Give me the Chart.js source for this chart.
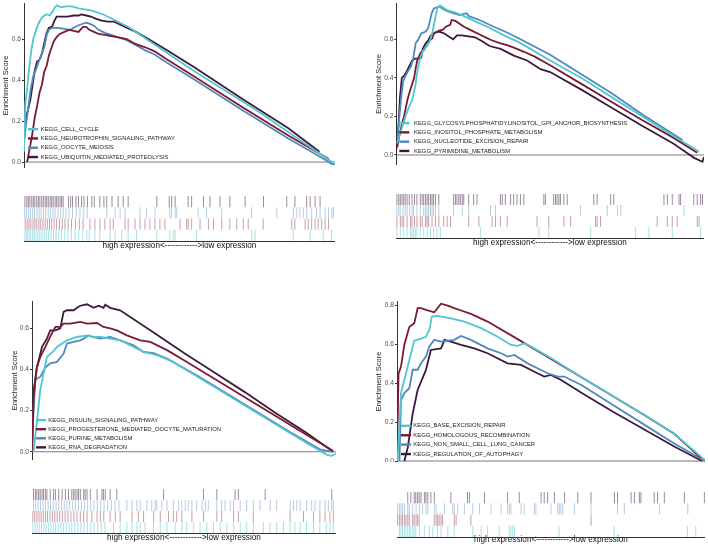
<!DOCTYPE html>
<html>
<head>
<meta charset="utf-8">
<script src="https://cdn.jsdelivr.net/npm/chart.js@4.4.1/dist/chart.umd.min.js"></script>
<style>
    body { margin: 0; background: #fff; width: 708px; height: 546px; position: relative; overflow: hidden; }
</style>
</head>
<body>
<script>
// ---- data (x = position in ranked list, 0..100 %) ----
const yTicksLow = [0, 0.2, 0.4, 0.6];
const yTicksHigh = [0, 0.2, 0.4, 0.6, 0.8];
const xTitle = "high expression<------------>low expression";

// panel 1
const p1Names = ["KEGG_CELL_CYCLE", "KEGG_NEUROTROPHIN_SIGNALING_PATHWAY", "KEGG_OOCYTE_MEIOSIS", "KEGG_UBIQUITIN_MEDIATED_PROTEOLYSIS"];
const p1CellCycle = [[0,0.05],[0.4,0.28],[1,0.36],[1.6,0.45],[2.4,0.55],[3,0.6],[3.8,0.64],[4.5,0.67],[5.5,0.7],[6.5,0.715],[7.5,0.72],[8.2,0.715],[9,0.73],[9.8,0.75],[10.5,0.765],[12,0.755],[13.5,0.76],[15.5,0.76],[17.5,0.75],[19.5,0.745],[21.5,0.74],[23.5,0.73],[25.5,0.72],[27.5,0.705],[29.5,0.69],[31.5,0.675],[33.5,0.66],[36,0.635],[55,0.44],[75,0.25],[99,0],[100,-0.01]];
const p1Neurotrophin = [[1,0],[1.5,0.04],[2.5,0.12],[3.5,0.22],[4.3,0.28],[5,0.34],[5.8,0.38],[6.5,0.44],[7.3,0.47],[8,0.52],[8.9,0.56],[9.6,0.59],[10.5,0.61],[11.5,0.625],[13,0.635],[14.5,0.645],[16,0.64],[17.5,0.635],[19,0.66],[20,0.66],[21,0.645],[22.5,0.635],[24,0.625],[26,0.62],[28,0.615],[30,0.61],[33,0.6],[36,0.575],[39,0.56],[42,0.54],[46,0.5],[55,0.415],[70,0.27],[85,0.13],[98,0.015]];
const p1Oocyte = [[0,0.1],[0.8,0.2],[1.5,0.28],[2.2,0.36],[3,0.42],[3.8,0.45],[4.5,0.48],[5.5,0.52],[6.5,0.56],[7.3,0.62],[8,0.645],[9,0.655],[11,0.655],[13,0.65],[15,0.645],[16.5,0.66],[18,0.67],[20,0.68],[21,0.675],[22.5,0.665],[24,0.645],[26,0.63],[28,0.62],[30,0.61],[33,0.595],[36,0.57],[39,0.545],[42,0.525],[46,0.485],[55,0.4],[70,0.255],[85,0.115],[97,0.01],[99,-0.01],[100,-0.01]];
const p1Ubiquitin = [[0,0.1],[0.6,0.22],[1.2,0.25],[2,0.3],[2.8,0.38],[3.5,0.45],[4.2,0.49],[5,0.5],[5.8,0.53],[6.5,0.58],[7.3,0.63],[8,0.655],[9,0.66],[9.8,0.69],[10.5,0.71],[12,0.71],[14,0.71],[16,0.715],[17.5,0.715],[18.5,0.72],[20,0.715],[21.5,0.71],[23,0.7],[25,0.69],[27,0.685],[29,0.685],[31,0.67],[33,0.655],[36,0.635],[40,0.6],[46,0.545],[55,0.46],[70,0.31],[85,0.165],[95,0.05]];
const p1CellCycleHits = [0.3,0.7,1.2,1.7,2.2,2.8,3.3,3.9,4.5,5.1,5.8,6.5,7.2,7.9,8.7,9.5,10.3,11.2,12.1,13.1,14.1,15.2,16.4,17.6,18.9,20.2,21,22.8,24.4,27.7,29.3,31.4,33.5,36.2,42.7,46.9,48,48.6,55.5,73.2,74.3,86.6,92,96.2,98.9];
const p1NeurotrophinHits = [0.4,1,1.6,2.2,2.9,3.5,4.1,4.8,5.4,6.1,6.8,7.5,8.2,8.9,9.7,10.5,11.4,12.3,13.2,14.2,15.3,16.5,17.8,19,21.2,22.8,24.4,26,27.7,28.7,32.5,33.5,35.7,37.3,38.9,40.5,42.1,43.7,45.3,50.2,52.3,52.8,53.9,56.6,59.3,60.9,63.6,66.2,68.4,70.5,72.1,76.9,86.1,87.1,90.4,91.4,92.5,93.6,94.6,95.7,96.8,97.9];
const p1OocyteHits = [0.2,0.8,1.5,2.1,2.8,3.4,4.2,4.9,5.5,6.3,7,7.8,8.5,9.3,10,10.9,11.8,12.6,13.5,14.5,15.6,16.8,18,19.2,20.3,26.6,29.3,30.9,32.5,37.3,39.4,42.1,46.9,47.5,48.6,49.1,56,58.7,63.6,73.2,81.3,86.6,87.7,88.7,89.8,90.9,92.5,94.1,95.2,96.8,97.9,99,99.5];
const p1UbiquitinHits = [0.3,0.9,1.4,1.9,2.5,3,3.5,4.1,4.6,5.1,5.7,6.2,6.8,7.3,7.8,8.4,8.9,9.4,10,10.5,11,11.6,12.1,12.6,14.3,15,15.6,16.7,17.5,18.5,19.3,20.4,21.8,22.6,24.4,25.7,26.6,28.3,30.3,31.9,33.5,42.7,46.7,47.5,48.6,52.8,53.9,57.7,59.8,63,66.2,71.1,77,84.5,87.1,90.9,92,93.6,95.2];

// panel 2
const p2Names = ["KEGG_GLYCOSYLPHOSPHATIDYLINOSITOL_GPI_ANCHOR_BIOSYNTHESIS", "KEGG_INOSITOL_PHOSPHATE_METABOLISM", "KEGG_NUCLEOTIDE_EXCISION_REPAIR", "KEGG_PYRIMIDINE_METABOLISM"];
const p2Gpi = [[0.3,0.06],[1,0.1],[2,0.15],[3,0.2],[4,0.245],[5.2,0.285],[6.3,0.37],[7,0.45],[7.9,0.51],[8.7,0.54],[9.6,0.56],[10.5,0.58],[11.2,0.605],[11.8,0.64],[12.2,0.67],[12.8,0.72],[13.3,0.76],[14.2,0.775],[16.6,0.75],[19,0.74],[22,0.72],[26,0.69],[29.6,0.665],[35,0.62],[40.4,0.58],[50,0.49],[60,0.4],[70,0.3],[80,0.2],[90,0.1],[98.4,0.017]];
const p2Inositol = [[0.3,0.04],[1,0.1],[1.9,0.165],[2.5,0.2],[3.6,0.285],[4.4,0.33],[5.2,0.37],[5.8,0.4],[6.3,0.45],[6.8,0.49],[7.9,0.53],[9,0.545],[9.6,0.56],[10.1,0.57],[10.6,0.59],[11.7,0.605],[12.2,0.63],[13.9,0.645],[15.2,0.65],[16.1,0.665],[17.5,0.675],[18,0.7],[19.2,0.695],[22,0.665],[24.5,0.645],[27.1,0.625],[29,0.61],[31,0.595],[33.6,0.58],[36,0.57],[38.4,0.555],[41.5,0.535],[45,0.51],[50,0.465],[60,0.37],[70,0.275],[80,0.18],[90,0.09],[97.8,0.012]];
const p2Nucleotide = [[0.3,0.06],[1,0.2],[1.6,0.3],[2.2,0.38],[3,0.41],[4,0.44],[4.8,0.46],[5.5,0.5],[6.3,0.58],[7.2,0.6],[8.1,0.63],[9.6,0.64],[10.4,0.66],[11,0.7],[11.5,0.735],[12.2,0.76],[13.9,0.77],[15.5,0.755],[16.5,0.745],[18.5,0.735],[20.5,0.725],[22.8,0.735],[23.6,0.72],[27,0.7],[31.7,0.665],[36,0.635],[41,0.595],[50,0.52],[60,0.42],[70,0.32],[80,0.21],[93,0.078]];
const p2Pyrimidine = [[0,0.025],[0.7,0.15],[1.2,0.3],[1.8,0.4],[2.5,0.41],[3.3,0.43],[4.2,0.46],[5.2,0.49],[6.1,0.5],[7,0.5],[8.1,0.505],[8.6,0.55],[9.6,0.58],[10.4,0.595],[11.2,0.62],[12.8,0.635],[13.9,0.64],[15.6,0.63],[17.4,0.61],[18.5,0.6],[19.7,0.62],[21.3,0.62],[23.5,0.615],[25.6,0.61],[27.9,0.59],[30.3,0.565],[33.9,0.55],[38.2,0.515],[42.5,0.49],[46.9,0.445],[50,0.43],[60,0.34],[70,0.245],[80,0.15],[90,0.06],[94.5,0.01],[96.8,-0.015],[99.5,-0.035],[100,-0.01]];
const p2GpiHits = [0.3,1.4,2.5,3.6,4.7,5.2,5.7,6.3,6.8,7.9,9,10.1,11.2,12.2,13.3,14.4,27.4,46.4,49.6,63.2,77.8,82.1,89.7,98.9];
const p2InositolHits = [0.3,1.4,1.95,2.5,3.6,4.7,5.2,6,6.8,7.9,8.5,9.6,10.1,10.6,11.7,12.8,13.9,15.5,16.6,17.7,23.6,26.9,31.2,32.3,33.9,36.1,45.8,49.6,54.5,56.7,64.8,65.3,66.4,84.8,88.1,89.7,91.3,97.8,98.4];
const p2NucleotideHits = [0.3,0.9,1.4,2.3,3,3.6,4.4,5.2,5.7,6.8,7.9,9,9.6,10.1,10.6,11.2,11.7,12.2,12.8,13.9,18.7,21.5,23.6,30.7,32.3,59.9,68.6,71.9,73,93.5];
const p2PyrimidineHits = [0.3,0.9,1.4,1.95,2.5,3,3.6,4.3,5.2,6,6.8,7.9,8.5,9,9.6,10.1,10.6,11.2,11.7,12.2,12.8,13.9,18.7,19.3,19.8,20.4,20.9,21.5,22,23.6,25.2,26.3,33.9,34.5,35.5,37.2,38.2,39.3,40.4,41.5,48,48.5,51.2,51.8,52.3,52.9,53.4,54.5,55.6,64.2,65.3,69.7,70.7,87,88.1,89.7,91.9,92.4,96.7,97.8,98.9,99.5];

// panel 3
const p3Names = ["KEGG_INSULIN_SIGNALING_PATHWAY", "KEGG_PROGESTERONE_MEDIATED_OOCYTE_MATURATION", "KEGG_PURINE_METABOLISM", "KEGG_RNA_DEGRADATION"];
const p3Insulin = [[0.5,0],[1.6,0.14],[2.7,0.3],[3.8,0.38],[4.9,0.46],[7.1,0.49],[8.2,0.51],[9.9,0.526],[11.5,0.542],[14.8,0.558],[18.1,0.566],[20.3,0.558],[22.5,0.558],[25.7,0.55],[29,0.542],[33.4,0.51],[36.7,0.485],[41.1,0.47],[46.5,0.437],[55,0.36],[65,0.27],[75,0.18],[85,0.09],[93,0.02],[97,-0.015],[98.5,-0.02],[100,-0.01]];
const p3Progesterone = [[0,0],[0.55,0.27],[1.6,0.41],[2.7,0.46],[4.4,0.51],[6,0.56],[7.7,0.607],[9.3,0.607],[10.4,0.623],[12.6,0.623],[15.9,0.631],[18.1,0.623],[21.4,0.626],[23.5,0.607],[25.7,0.6],[27.9,0.59],[31.2,0.566],[35.6,0.542],[38.9,0.534],[44.4,0.494],[50,0.445],[60,0.355],[70,0.265],[80,0.175],[90,0.085],[99,0.005]];
const p3Purine = [[0,0],[0.5,0.2],[1.1,0.35],[2.7,0.364],[4.4,0.41],[6,0.43],[8.2,0.437],[10.4,0.477],[11.5,0.526],[13.7,0.534],[15.9,0.542],[17,0.55],[18.6,0.566],[19.7,0.558],[22.5,0.55],[25.7,0.558],[29,0.542],[33.4,0.518],[36.7,0.485],[40,0.48],[44.4,0.453],[55,0.365],[65,0.275],[75,0.185],[85,0.095],[95,0.01],[99.1,0]];
const p3Rna = [[0,0],[0.55,0.3],[1.6,0.41],[3.3,0.51],[4.9,0.55],[6,0.59],[7.7,0.59],[9.3,0.6],[10.4,0.68],[11.5,0.688],[13.7,0.688],[14.8,0.7],[15.9,0.71],[18.1,0.717],[20.3,0.7],[21.9,0.71],[23.5,0.7],[24.1,0.715],[25.7,0.7],[29,0.688],[40,0.58],[50,0.48],[60,0.385],[70,0.29],[80,0.19],[90,0.095],[99.1,0]];
const p3InsulinHits = [0.3,1,1.7,2.4,3.1,3.9,4.6,5.4,6.2,7,7.8,8.6,9.5,10.4,11.3,12.2,13.1,14.1,15.1,16.1,17.1,18.2,19.3,20.4,21.6,22.8,24,26.8,29,31.2,32.9,34.5,35.6,37.2,40,42.2,44.4,47.1,49.3,50.9,53.1,55.3,57.5,59.7,61.9,64.1,66.3,68.5,70.6,72.8,76.1,78.3,80.5,82.7,84.9,86.5,88.2,90.3,92.6,94.7,96.9,98,99.1];
const p3ProgesteroneHits = [0.3,0.9,1.6,2.3,3,3.7,4.4,5.1,5.9,6.7,7.5,8.3,9.1,10,10.9,11.8,12.8,13.8,14.8,15.9,17,18.1,19.7,21.4,22.5,23.6,25.7,27.4,29,32.9,35,36.7,40,42.2,44.9,46.5,47.6,49.3,52.6,56.4,60.8,62.4,66.3,67.9,72.8,84.9,89.3,92.6,94.7,96.4,98,99.1];
const p3PurineHits = [0.5,1.2,2,2.8,3.6,4.4,5.3,6.1,7,7.9,8.8,9.7,10.6,11.5,12.4,13.4,14.3,15.3,16.3,17.3,18.3,19.3,20.4,21.5,22.6,23.7,24.9,26.1,27.3,28.6,31.2,32.9,34.5,35.6,37.8,39.4,40.5,41.1,42.7,44.4,46.5,48.2,49.3,50.4,51.4,52.6,54.2,55.9,57,58,60.8,62.4,63.5,65.2,66.3,68.5,70.6,72.8,75,78.3,80.5,84.9,86,87.1,88.2,90.3,92,93.1,94.7,96.4,97.5,98.6,99.1];
const p3RnaHits = [0.5,1.1,1.6,2.2,2.7,3.3,3.8,4.4,4.9,6,7.1,7.7,8.8,9.9,11,12,13.1,13.7,14.2,14.8,15.3,15.9,17,17.5,18.1,19.2,21.4,23,23.5,24.1,25.7,27.9,43.3,56.4,60.8,66.8,67.9,76.7,98.6];

// panel 4
const p4Names = ["KEGG_BASE_EXCISION_REPAIR", "KEGG_HOMOLOGOUS_RECOMBINATION", "KEGG_NON_SMALL_CELL_LUNG_CANCER", "KEGG_REGULATION_OF_AUTOPHAGY"];
const p4BaseExcision = [[0.2,0],[1.3,0.35],[2.4,0.42],[4,0.52],[5.6,0.62],[7.8,0.63],[9.4,0.64],[10.5,0.675],[11.3,0.744],[13.2,0.747],[17.5,0.735],[21.9,0.718],[27.3,0.684],[32.7,0.64],[37,0.598],[39.2,0.593],[41.3,0.607],[43.5,0.59],[50,0.53],[60,0.43],[70,0.335],[80,0.24],[90,0.14],[100,0.005]];
const p4Homologous = [[0,0],[0.5,0.45],[1.3,0.486],[2.4,0.6],[4,0.69],[5.6,0.71],[6.7,0.787],[7.8,0.787],[9.4,0.778],[12.1,0.766],[14.3,0.81],[16.5,0.8],[18.6,0.787],[20.8,0.775],[24,0.758],[29.4,0.718],[40,0.62],[50,0.525],[60,0.43],[70,0.335],[80,0.24],[90,0.14],[98.7,0.015]];
const p4LungCancer = [[0.8,0],[1.3,0.314],[2.4,0.35],[4,0.375],[5.1,0.47],[6.7,0.47],[7.8,0.503],[9.4,0.538],[10.5,0.59],[12.1,0.624],[14.3,0.615],[18.6,0.624],[20.8,0.644],[24,0.624],[29.4,0.58],[33.8,0.555],[35.9,0.538],[38.1,0.546],[42.4,0.503],[48.9,0.452],[52.2,0.435],[54.3,0.435],[60,0.39],[70,0.29],[80,0.19],[90,0.09],[100,0]];
const p4Autophagy = [[2.4,0],[3.5,0.07],[5.1,0.245],[6.7,0.366],[9.4,0.469],[11,0.572],[14.3,0.58],[15.4,0.624],[17.5,0.615],[20.8,0.598],[25.1,0.58],[29.4,0.555],[35.9,0.503],[40.3,0.495],[44.6,0.46],[47.8,0.435],[50,0.443],[53.3,0.417],[60,0.35],[70,0.255],[80,0.165],[90,0.075],[99,0]];
const p4BaseExcisionHits = [0.8,1.3,1.8,2.4,2.9,3.5,4,4.5,5.1,5.6,6.1,7.3,8.9,10.5,11.6,13.2,14.3,16.5,18.6,24.6,27.3,29.4,33.2,36.5,37,37.6,38.1,52.6,70.5,94.3,97];
const p4HomologousHits = [0.2,0.8,1.3,1.8,2.4,2.9,3.5,4,5.1,5.6,6.2,6.7,7.2,12.1,12.7,13.2,13.7,14.3,14.8,18.6,19.2,24,63];
const p4LungCancerHits = [0.2,0.8,1.3,1.8,2.4,3.5,4,5.1,6.2,7.3,8.3,9.4,10,12.1,12.7,15.4,18.1,18.6,19.7,21.9,24.6,26.8,30.5,33.8,35.9,36.5,37,40.3,41.3,44.6,45.1,50,52.2,52.7,53.2,53.8,57.6,63,71.6,73.8,85.2,94.4];
const p4AutophagyHits = [3.5,4.5,5.6,6.1,6.7,7.2,7.8,8.9,9.4,10,11,12.1,17.5,22.9,23.5,28.4,35.9,39.7,46.8,47.8,48.9,51.1,54.4,58.7,63,70.6,71.6,76,77.1,78.7,79.2,83.5,84.6,86.8,93.3,99.8];

// ---- styles ----
const FONT = '"Liberation Sans", Arial, sans-serif';
const COLORS = ["#52C5D2", "#7B1A33", "#5188BD", "#3C1A3E"];
const RUG_COLORS = ["rgba(82,197,210,0.5)", "rgba(123,26,51,0.42)", "rgba(81,136,189,0.42)", "rgba(60,26,62,0.5)"];

// legend drawn inside the plot, just above the zero line
const insideLegend = {
    id: "insideLegend",
    afterDatasetsDraw(chart, args, opts) {
        const { ctx, chartArea } = chart;
        const y0 = chart.scales.y.getPixelForValue(0);
        ctx.save();
        ctx.font = "5.9px " + FONT;
        ctx.textBaseline = "middle";
        opts.names.forEach((name, i) => {
            const y = y0 - opts.lift - (opts.names.length - 1 - i) * opts.gap;
            ctx.strokeStyle = COLORS[i];
            ctx.lineWidth = 2.4;
            ctx.beginPath();
            ctx.moveTo(chartArea.left + opts.keyX, y);
            ctx.lineTo(chartArea.left + opts.keyX + 10, y);
            ctx.stroke();
            ctx.fillStyle = "#222";
            ctx.fillText(name, chartArea.left + opts.textX, y);
        });
        ctx.restore();
    }
};

function place(left, top, w, h) {
    const c = document.createElement("canvas");
    c.width = w;
    c.height = h;
    c.style.cssText = `position:absolute;left:${left}px;top:${top}px;width:${w}px;height:${h}px`;
    document.body.appendChild(c);
    return c.getContext("2d");
}

function esChart(box, axisW, yMin, yMax, yTicks, names, curves, legendOpts) {
    const ctx = place(...box);
    const datasets = curves.map((pts, i) => ({
        label: names[i],
        data: pts.map(([x, y]) => ({ x, y })),
        borderColor: COLORS[i],
        borderWidth: 1.8,
        pointRadius: 0,
        fill: false,
        tension: 0
    }));
    datasets.push({
        label: "zero",
        data: [{ x: 0, y: 0 }, { x: 100, y: 0 }],
        borderColor: "#555",
        borderWidth: 0.8,
        pointRadius: 0
    });

    return new Chart(ctx, {
        type: "line",
        data: { datasets },
        options: {
            responsive: false,
            animation: false,
            events: [],
            layout: { autoPadding: false, padding: { right: 2 } },
            plugins: {
                legend: { display: false },
                tooltip: { enabled: false },
                insideLegend: Object.assign({ names }, legendOpts)
            },
            scales: {
                x: { type: "linear", min: 0, max: 100, display: false },
                y: {
                    min: yMin,
                    max: yMax,
                    afterBuildTicks: s => { s.ticks = yTicks.map(v => ({ value: v })); },
                    afterFit: s => { s.width = axisW; s.paddingTop = 0; s.paddingBottom = 0; },
                    ticks: {
                        callback: v => v.toFixed(1),
                        font: { family: FONT, size: 6.6 },
                        color: "#4d4d4d",
                        padding: 1
                    },
                    grid: { drawOnChartArea: false, tickLength: 2, color: "#333" },
                    border: { color: "#333", width: 1 },
                    title: {
                        display: true,
                        text: "Enrichment Score",
                        font: { family: FONT, size: 7.5 },
                        color: "#222",
                        padding: { top: 1.5, bottom: 0 }
                    }
                }
            }
        },
        plugins: [insideLegend]
    });
}

function rugChart(box, axisH, hitSets) {
    const ctx = place(...box);
    const rowR = (box[3] - axisH) / 8;
    const datasets = hitSets.map((hits, i) => ({
        data: hits.map(x => ({ x, y: 0.5 + i })),
        pointStyle: "line",
        rotation: 90,
        pointRadius: rowR,
        borderWidth: 1,
        borderColor: RUG_COLORS[i]
    }));

    return new Chart(ctx, {
        type: "scatter",
        data: { datasets },
        options: {
            responsive: false,
            animation: false,
            events: [],
            layout: { autoPadding: false, padding: 0 },
            plugins: { legend: { display: false }, tooltip: { enabled: false } },
            scales: {
                x: {
                    type: "linear",
                    min: 0,
                    max: 100,
                    ticks: { display: false },
                    grid: { display: false },
                    border: { display: true, color: "#333", width: 1 },
                    title: {
                        display: true,
                        text: xTitle,
                        font: { family: FONT, size: 8.2 },
                        color: "#111",
                        padding: { top: 0, bottom: 1 }
                    },
                    afterFit: s => { s.height = axisH; }
                },
                y: { min: 0, max: 4, display: false }
            }
        }
    });
}

// top left
esChart([0, 3, 337, 165], 24, -0.029, 0.776, yTicksLow, p1Names,
    [p1CellCycle, p1Neurotrophin, p1Oocyte, p1Ubiquitin],
    { keyX: 4, textX: 16.7, lift: 5, gap: 9.3 });
rugChart([24, 196, 311, 56], 11,
    [p1CellCycleHits, p1NeurotrophinHits, p1OocyteHits, p1UbiquitinHits]);

// top right
esChart([373, 3, 333, 162], 23.3, -0.052, 0.788, yTicksLow, p2Names,
    [p2Gpi, p2Inositol, p2Nucleotide, p2Pyrimidine],
    { keyX: 3, textX: 17.7, lift: 4, gap: 9.3 });
rugChart([396, 194, 308, 55], 11,
    [p2GpiHits, p2InositolHits, p2NucleotideHits, p2PyrimidineHits]);

// bottom left
esChart([9, 301, 329, 159], 23, -0.040, 0.733, yTicksLow, p3Names,
    [p3Insulin, p3Progesterone, p3Purine, p3Rna],
    { keyX: 4, textX: 16.3, lift: 4.4, gap: 9.1 });
rugChart([32, 489, 304, 55], 11,
    [p3InsulinHits, p3ProgesteroneHits, p3PurineHits, p3RnaHits]);

// bottom right
esChart([373, 301, 334, 161], 24, -0.005, 0.824, yTicksHigh, p4Names,
    [p4BaseExcision, p4Homologous, p4LungCancer, p4Autophagy],
    { keyX: 4, textX: 16.3, lift: 7, gap: 9.4 });
rugChart([397, 492, 308, 54], 9,
    [p4BaseExcisionHits, p4HomologousHits, p4LungCancerHits, p4AutophagyHits]);
</script>
</body>
</html>
